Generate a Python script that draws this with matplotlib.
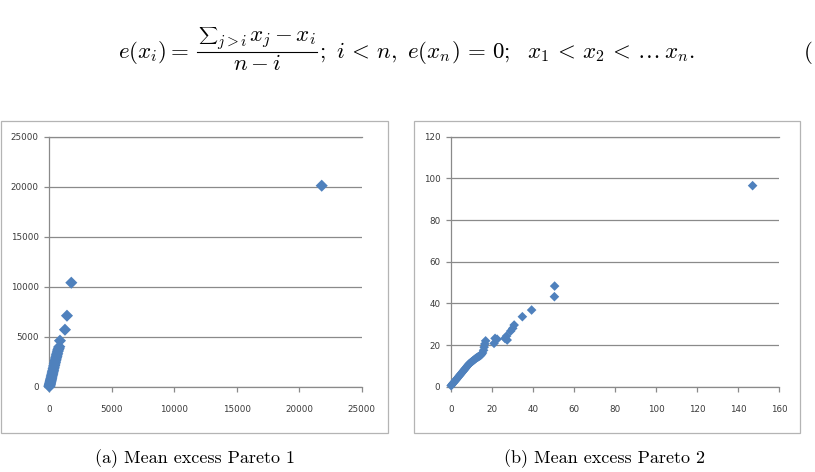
import matplotlib
matplotlib.use("Agg")
import matplotlib.pyplot as plt
from matplotlib.patches import Rectangle
from matplotlib.lines import Line2D

# ---- data ----
p1_x = [5, 15, 30, 45, 60, 80, 100, 120, 140, 160, 185, 210, 235, 260, 285, 310,
        340, 370, 400, 430, 460, 490, 520, 550, 580, 610, 640, 680, 720, 760, 800,
        854, 1254, 1414, 1761, 21800]
p1_y = [20, 80, 160, 230, 300, 400, 520, 620, 730, 840, 970, 1100, 1240, 1370, 1500,
        1640, 1800, 1960, 2120, 2280, 2440, 2600, 2760, 2900, 3050, 3200, 3350, 3550,
        3700, 3850, 4000, 4600, 5700, 7100, 10400, 20100]

p2_x = [0.2, 0.6, 1.0, 1.5, 2.0, 2.5, 3.0, 3.5, 4.0, 4.5, 5.0, 5.5, 6.0, 6.5, 7.0, 7.5,
        8.0, 8.5, 9.0, 9.5, 10.0, 10.5, 11.0, 11.5, 12.0, 12.5, 13.0, 13.5, 14.0, 14.5,
        15.0, 15.5, 16.0, 16.3, 16.6, 17.0,
        21.1, 21.6, 22.6, 26.4, 27.2, 27.5, 29.2, 30.2, 30.9, 34.9, 39.4, 50.5, 50.6, 147.0]
p2_y = [0.5, 1.0, 1.5, 2.0, 2.6, 3.2, 3.8, 4.4, 5.0, 5.6, 6.2, 6.8, 7.4, 8.0, 8.6, 9.2,
        9.8, 10.4, 11.0, 11.4, 11.8, 12.2, 12.6, 13.0, 13.4, 13.8, 14.1, 14.4, 14.7, 15.0,
        15.5, 16.2, 17.5, 19.0, 20.5, 22.0,
        20.8, 23.2, 22.8, 23.2, 24.3, 22.4, 26.7, 28.0, 29.6, 33.6, 36.8, 43.2, 48.3, 96.5]

p1_xticks = [0, 5000, 10000, 15000, 20000, 25000]
p1_yticks = [0, 5000, 10000, 15000, 20000, 25000]
p2_xticks = [0, 20, 40, 60, 80, 100, 120, 140, 160]
p2_yticks = [0, 20, 40, 60, 80, 100, 120]

captions = ["(a) Mean excess Pareto 1", "(b) Mean excess Pareto 2"]

W, H = 815, 472
plt.rcParams["mathtext.fontset"] = "cm"
fig = plt.figure(figsize=(W / 100, H / 100), dpi=100)

BLUE = "#4F81BD"
GRID = "#8a8a8a"
LBL = "#3a3a3a"


def fx(px):
    return px / W


def fy(py):
    return 1 - py / H


# panel borders
for (x0, x1) in [(1, 388), (414, 800)]:
    fig.patches.append(Rectangle((fx(x0), fy(433)), fx(x1 - x0), (433 - 121) / H,
                                 transform=fig.transFigure, fill=False,
                                 edgecolor="#b4b4b4", lw=0.9))


def style(ax, xt, yt, ms, xs, ys):
    ax.scatter(xs, ys, marker="D", s=ms, color=BLUE, edgecolors="none", zorder=3,
               clip_on=False)
    ax.set_xlim(xt[0], xt[-1])
    ax.set_ylim(yt[0], yt[-1])
    ax.set_xticks(xt)
    ax.set_yticks(yt)
    ax.set_xticklabels([str(v) for v in xt])
    ax.set_yticklabels([str(v) for v in yt])
    for s in ["top", "right"]:
        ax.spines[s].set_visible(False)
    for s in ["left", "bottom"]:
        ax.spines[s].set_color(GRID)
        ax.spines[s].set_linewidth(0.9)
    ax.yaxis.grid(True, color=GRID, lw=0.9)
    ax.set_axisbelow(True)
    ax.tick_params(axis="both", colors=GRID, length=3.5, width=0.9, direction="out",
                   labelsize=6.3, labelcolor=LBL)
    ax.tick_params(axis="x", pad=10)
    ax.tick_params(axis="y", pad=4)
    ax.axhline(yt[-1], color=GRID, lw=0.9, clip_on=False)
    ax.set_facecolor("none")


ax1 = fig.add_axes([fx(49.3), fy(386.7), fx(312.4), 250 / H])
style(ax1, p1_xticks, p1_yticks, 38, p1_x, p1_y)

ax2 = fig.add_axes([fx(450.7), fy(386.7), fx(328.6), 250 / H])
style(ax2, p2_xticks, p2_yticks, 24, p2_x, p2_y)

# captions
fig.text(fx(195), fy(463), captions[0], ha="center", va="baseline",
         family="cmr10", fontsize=13)
fig.text(fx(604), fy(463), captions[1], ha="center", va="baseline",
         family="cmr10", fontsize=13)

# equation, composed piecewise
FS = 16.5
fig.text(fx(118), fy(58), r"$e(x_i) =$", ha="left", va="baseline", fontsize=FS)
fig.add_artist(Line2D([fx(197), fx(317)], [fy(52), fy(52)], color="black", lw=0.8,
                      transform=fig.transFigure))
fig.text(fx(198), fy(36), r"$\sum$", ha="left", va="center", fontsize=9.5)
fig.text(fx(217), fy(46), r"$j>i$", ha="left", va="baseline", fontsize=11)
fig.text(fx(249), fy(42), r"$x_j - x_i$", ha="left", va="baseline", fontsize=FS)
fig.text(fx(257), fy(70), r"$n - i$", ha="center", va="baseline", fontsize=FS)
fig.text(fx(319), fy(58),
         r"$;\ i\,<\,n,\ e(x_n)\,=\,0;\ \ x_1\,<\,x_2\,<\,\ldots\, x_n.$",
         ha="left", va="baseline", fontsize=FS)
fig.text(fx(808), fy(58), "(", ha="center", va="baseline", family="cmr10",
         fontsize=FS)

fig.savefig("out.png", dpi=100)
